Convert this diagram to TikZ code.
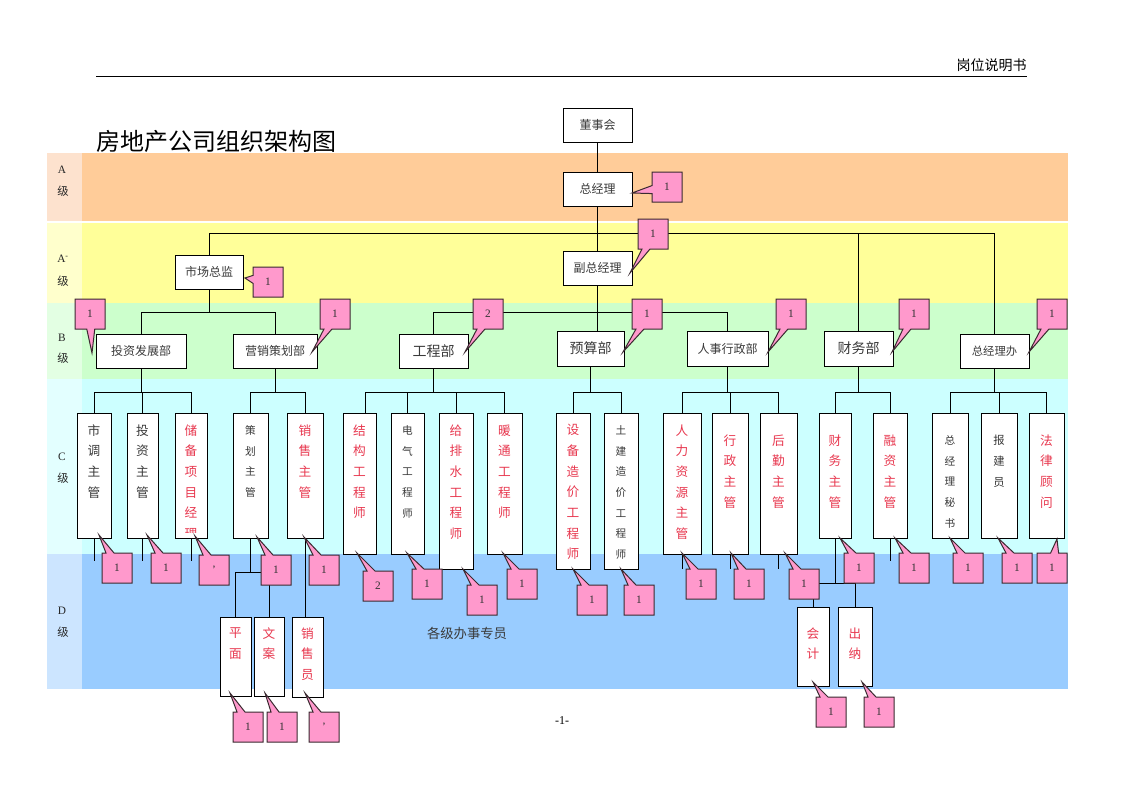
\documentclass[tikz,border=0pt]{standalone}
\usepackage{fontspec}
\setmainfont{Liberation Serif}
\newfontfamily\cjk{Noto Sans CJK SC}
\usetikzlibrary{shapes.callouts,calc}
\definecolor{bandA}{HTML}{FFCC99}
\definecolor{bandAl}{HTML}{FDE2CE}
\definecolor{bandAm}{HTML}{FFFF99}
\definecolor{bandAml}{HTML}{FFFFCC}
\definecolor{bandB}{HTML}{CCFFCC}
\definecolor{bandBl}{HTML}{E3FFE3}
\definecolor{bandC}{HTML}{CCFFFF}
\definecolor{bandCl}{HTML}{E3FFFF}
\definecolor{bandD}{HTML}{99CCFF}
\definecolor{bandDl}{HTML}{CCE5FF}
\definecolor{cpink}{HTML}{FF99CC}
\definecolor{cborder}{HTML}{3A2A30}
\definecolor{redtxt}{HTML}{E8384F}
\definecolor{blktxt}{HTML}{3A3A3A}
\tikzset{
  ln/.style={line width=0.75pt,black},
  box/.style={draw=black,fill=white,line width=0.75pt,inner sep=0pt,outer sep=0pt,
    font=\cjk\fontsize{9}{11}\selectfont,text=blktxt},
  cl/.style={rectangle callout,draw=cborder,fill=cpink,line width=0.75pt,
    minimum width=22.5pt,minimum height=22.5pt,inner sep=0pt,
    callout pointer width=6pt,font=\fontsize{8.5}{10}\selectfont,text=black!80},
  vtext/.style={anchor=north,align=center,inner sep=0pt},
  lvl/.style={font=\fontsize{8.5}{10}\selectfont,text=black!85,inner sep=0pt},
  lvlc/.style={font=\cjk\fontsize{8.5}{10}\selectfont,text=black!85,inner sep=0pt}
}
\newcommand\bx[7][]{\node[box,#1,minimum width={(#5-#3)*0.75pt},minimum height={(#6-#4)*0.75pt}] (#2) at ({(#3+#5)/2},{(#4+#6)/2}) {#7};}
\newcommand\co[6]{\node[cl,callout absolute pointer={(#4,#5)}] (#1) at (#2,#3) {#6};}
\newcommand\vt[6]{\node[vtext,font=\cjk\fontsize{#4}{15.5}\selectfont,text=#5] (#1) at ($(#2.north)+(0,#3)$) {#6};}
\begin{document}
\begin{tikzpicture}[x=0.75pt,y=-0.75pt]
\useasboundingbox (0,0) rectangle (1122,793);
\fill[white] (0,0) rectangle (1122,793);
% header
\node[anchor=east,inner sep=0pt,font=\cjk\fontsize{10.5}{12}\selectfont] (hdr) at (1027,65) {岗位说明书};
\draw[line width=0.75pt] (96,76) -- (1027,76);
% title
\node[anchor=west,inner sep=0pt,font=\cjk\fontsize{18}{20}\selectfont] (title) at (96,141) {房地产公司组织架构图};
% bands
\fill[bandA] (82,153) rectangle (1068,221);
\fill[bandAl] (47,153) rectangle (82,221);
\fill[bandAm] (82,222.5) rectangle (1068,302.5);
\fill[bandAml] (47,222.5) rectangle (82,302.5);
\fill[bandB] (82,302.5) rectangle (1068,378.5);
\fill[bandBl] (47,302.5) rectangle (82,378.5);
\fill[bandC] (82,378.5) rectangle (1068,553.5);
\fill[bandCl] (47,378.5) rectangle (82,553.5);
\fill[bandD] (82,553.5) rectangle (1068,689);
\fill[bandDl] (47,553.5) rectangle (82,689);
% level labels
\node[lvl] (lA) at (62,170) {A};
\node[lvlc] (lA2) at (63,191) {级};
\node[lvl] (lAm) at (63,259) {A\textsuperscript{-}};
\node[lvlc] (lAm2) at (63,281) {级};
\node[lvl] (lB) at (62,338) {B};
\node[lvlc] (lB2) at (63,358) {级};
\node[lvl] (lC) at (62,457) {C};
\node[lvlc] (lC2) at (63,478) {级};
\node[lvl] (lD) at (62,611) {D};
\node[lvlc] (lD2) at (63,632) {级};
\node[font=\cjk\fontsize{10}{12}\selectfont,text=blktxt,inner sep=0pt] (misc) at (467,633) {各级办事专员};
\node[font=\fontsize{9}{10}\selectfont,inner sep=0pt] (pg) at (562,721) {-1-};

% ===== boxes (top levels)
\bx{dsh}{563}{108}{632}{142}{董事会}
\bx{zjl}{563}{172}{632}{206}{总经理}
\bx{fzjl}{563}{251}{632}{285}{副总经理}
\bx{sczj}{175}{255}{243}{289}{市场总监}
\bx{tzfz}{96}{334}{186}{368}{投资发展部}
\bx{yxch}{233}{334}{317}{368}{营销策划部}
\bx[font=\cjk\fontsize{10.5}{12}\selectfont]{gcb}{399}{334}{468}{368}{工程部}
\bx[font=\cjk\fontsize{10.5}{12}\selectfont]{ysb}{557}{331}{624}{366}{预算部}
\bx{rsxz}{687}{331}{768}{366}{人事行政部}
\bx[font=\cjk\fontsize{10.5}{12}\selectfont]{cwb}{824}{331}{893}{366}{财务部}
\bx[font=\cjk\fontsize{8.5}{10}\selectfont]{zjlb}{960}{334}{1029}{368}{总经理办}
% C boxes
\bx{c1}{77}{413}{111}{538}{}
\bx{c2}{127}{413}{158}{538}{}
\bx{c3}{175}{413}{207}{538}{}
\bx{c4}{233}{413}{268}{538}{}
\bx{c5}{287}{413}{323}{538}{}
\bx{c6}{343}{413}{376}{554}{}
\bx{c7}{391}{413}{424}{554}{}
\bx{c8}{439}{413}{473}{569}{}
\bx{c9}{487}{413}{522}{554}{}
\bx{c10}{556}{413}{590}{569}{}
\bx{c11}{604}{413}{638}{569}{}
\bx{c12}{663}{413}{701}{554}{}
\bx{c13}{712}{413}{748}{554}{}
\bx{c14}{760}{413}{797}{554}{}
\bx{c15}{819}{413}{851}{538}{}
\bx{c16}{873}{413}{907}{538}{}
\bx{c17}{932}{413}{968}{538}{}
\bx{c18}{981}{413}{1017}{538}{}
\bx{c19}{1029}{413}{1064}{538}{}
% D boxes
\bx{pm}{220}{617}{251}{696}{}
\bx{wa}{254}{617}{284}{696}{}
\bx{xsy}{292}{617}{323}{697}{}
\bx{kj}{797}{607}{829}{686}{}
\bx{cn}{838}{607}{872}{686}{}

% ===== connectors
\coordinate (busA) at (0,233);
\coordinate (busB) at (0,312);
\coordinate (busC) at (0,392);
\draw[ln] (dsh.south) -- (zjl.north);
\draw[ln] (zjl.south) -- (fzjl.north);
\draw[ln] (fzjl.south) -- (fzjl.south |- ysb.north);
\draw[ln] (sczj.north) -- (sczj.north |- busA) -- (zjlb.north |- busA) -- (zjlb.north);
\draw[ln] (cwb.north) -- (cwb.north |- busA);
\draw[ln] (gcb.north) -- (gcb.north |- busB) -- (rsxz.north |- busB) -- (rsxz.north);
\draw[ln] (sczj.south) -- (sczj.south |- busB);
\draw[ln] (tzfz.north) -- (tzfz.north |- busB) -- (yxch.north |- busB) -- (yxch.north);
% C buses
\draw[ln] (tzfz.south) -- (tzfz.south |- busC);
\draw[ln] (c1.north) -- (c1.north |- busC) -- (c3.north |- busC) -- (c3.north);
\draw[ln] (c2.north) -- (c2.north |- busC);
\draw[ln] (yxch.south) -- (yxch.south |- busC);
\draw[ln] (c4.north) -- (c4.north |- busC) -- (c5.north |- busC) -- (c5.north);
\draw[ln] (gcb.south) -- (gcb.south |- busC);
\draw[ln] ([xshift=4.5pt]c6.north) -- ([xshift=4.5pt]c6.north |- busC) -- (c9.north |- busC) -- (c9.north);
\draw[ln] (c7.north) -- (c7.north |- busC);
\draw[ln] (c8.north) -- (c8.north |- busC);
\draw[ln] (ysb.south) -- (ysb.south |- busC);
\draw[ln] (c10.north) -- (c10.north |- busC) -- (c11.north |- busC) -- (c11.north);
\draw[ln] (rsxz.south) -- (rsxz.south |- busC);
\draw[ln] (c12.north) -- (c12.north |- busC) -- (c14.north |- busC) -- (c14.north);
\draw[ln] (c13.north) -- (c13.north |- busC);
\draw[ln] (cwb.south) -- (cwb.south |- busC);
\draw[ln] (c15.north) -- (c15.north |- busC) -- (c16.north |- busC) -- (c16.north);
\draw[ln] (zjlb.south) -- (zjlb.south |- busC);
\draw[ln] (c17.north) -- (c17.north |- busC) -- (c19.north |- busC) -- (c19.north);
\draw[ln] (c18.north) -- (c18.north |- busC);
% stubs below C boxes
\draw[ln] (c1.south) -- ++(0,23);
\draw[ln] (c2.south) -- ++(0,23);
\draw[ln] (c3.south) -- ++(0,23);
\draw[ln] (c12.south) -- ++(0,15);
\draw[ln] (c13.south) -- ++(0,15);
\draw[ln] (c14.south) -- ++(0,15);
\draw[ln] (c16.south) -- ++(0,23);
% D connectors
\coordinate (busD1) at (0,572);
\draw[ln] (c4.south) -- (c4.south |- busD1);
\draw[ln] (pm.north) -- (pm.north |- busD1) -- (wa.north |- busD1) -- (wa.north);
\draw[ln] (c5.south) -- (c5.south |- xsy.north);
\coordinate (busD2) at (0,583);
\draw[ln] (c15.south) -- (c15.south |- busD2);
\draw[ln] (kj.north) -- (kj.north |- busD2) -- (cn.north |- busD2) -- (cn.north);

% ===== vertical texts
\vt{t1}{c1}{11.3}{9.5}{blktxt}{市\\调\\主\\管}
\vt{t2}{c2}{11.3}{9.5}{blktxt}{投\\资\\主\\管}
\begin{scope}
\clip ([yshift=4pt]c3.south west) rectangle (c3.north east);
\vt{t3}{c3}{11.3}{9.5}{redtxt}{储\\备\\项\\目\\经\\理}
\end{scope}
\vt{t4}{c4}{12.2}{8}{blktxt}{策\\划\\主\\管}
\vt{t5}{c5}{11.3}{9.5}{redtxt}{销\\售\\主\\管}
\vt{t6}{c6}{11.3}{9.5}{redtxt}{结\\构\\工\\程\\师}
\vt{t7}{c7}{12.2}{8}{blktxt}{电\\气\\工\\程\\师}
\vt{t8}{c8}{11.3}{9.5}{redtxt}{给\\排\\水\\工\\程\\师}
\vt{t9}{c9}{11.3}{9.5}{redtxt}{暖\\通\\工\\程\\师}
\vt{t10}{c10}{11.3}{9.5}{redtxt}{设\\备\\造\\价\\工\\程\\师}
\vt{t11}{c11}{12.2}{8}{blktxt}{土\\建\\造\\价\\工\\程\\师}
\vt{t12}{c12}{11.3}{9.5}{redtxt}{人\\力\\资\\源\\主\\管}
\vt{t13}{c13}{21.3}{9.5}{redtxt}{行\\政\\主\\管}
\vt{t14}{c14}{21.3}{9.5}{redtxt}{后\\勤\\主\\管}
\vt{t15}{c15}{21.3}{9.5}{redtxt}{财\\务\\主\\管}
\vt{t16}{c16}{21.3}{9.5}{redtxt}{融\\资\\主\\管}
\vt{t17}{c17}{22.2}{8}{blktxt}{总\\经\\理\\秘\\书}
\vt{t18}{c18}{21.9}{8.5}{blktxt}{报\\建\\员}
\vt{t19}{c19}{21.3}{9.5}{redtxt}{法\\律\\顾\\问}
\vt{t20}{pm}{10.3}{9.5}{redtxt}{平\\面}
\vt{t21}{wa}{10.3}{9.5}{redtxt}{文\\案}
\vt{t22}{xsy}{10.3}{9.5}{redtxt}{销\\售\\员}
\vt{t23}{kj}{20.3}{9.5}{redtxt}{会\\计}
\vt{t24}{cn}{20.3}{9.5}{redtxt}{出\\纳}

% ===== callouts
\co{k1}{667}{187}{632}{193}{1}
\co{k2}{653}{234}{630}{273}{1}
\co{k3}{268}{282}{245}{278}{1}
\co{k4}{90}{314}{92}{353}{1}
\co{k5}{335}{314}{312}{352}{1}
\co{k6}{488}{314}{465}{352}{2}
\co{k7}{647}{314}{623}{352}{1}
\co{k8}{791}{314}{768}{352}{1}
\co{k9}{914}{314}{892}{352}{1}
\co{k10}{1052}{314}{1029}{352}{1}
\co{q1}{117}{568}{99}{535}{1}
\co{q2}{166}{568}{147}{535}{1}
\co{q3}{214}{570}{195}{536}{'}
\co{q4}{276}{570}{257}{537}{1}
\co{q5}{324}{570}{304}{537}{1}
\co{q6}{378}{586}{357}{553}{2}
\co{q7}{427}{584}{407}{553}{1}
\co{q8}{482}{600}{463}{569}{1}
\co{q9}{522}{584}{503}{553}{1}
\co{q10}{592}{600}{573}{569}{1}
\co{q11}{639}{600}{621}{569}{1}
\co{q12}{701}{584}{682}{553}{1}
\co{q13}{749}{584}{731}{553}{1}
\co{q14}{804}{584}{785}{553}{1}
\co{q15}{859}{568}{840}{538}{1}
\co{q16}{914}{568}{895}{538}{1}
\co{q17}{968}{568}{950}{538}{1}
\co{q18}{1017}{568}{998}{538}{1}
\co{q19}{1052}{568}{1057}{539}{1}
\co{d1}{248}{727}{230}{693}{1}
\co{d2}{282}{727}{265}{693}{1}
\co{d3}{324}{727}{305}{693}{'}
\co{d4}{831}{712}{813}{682}{1}
\co{d5}{879}{712}{862}{682}{1}
\end{tikzpicture}
\end{document}
